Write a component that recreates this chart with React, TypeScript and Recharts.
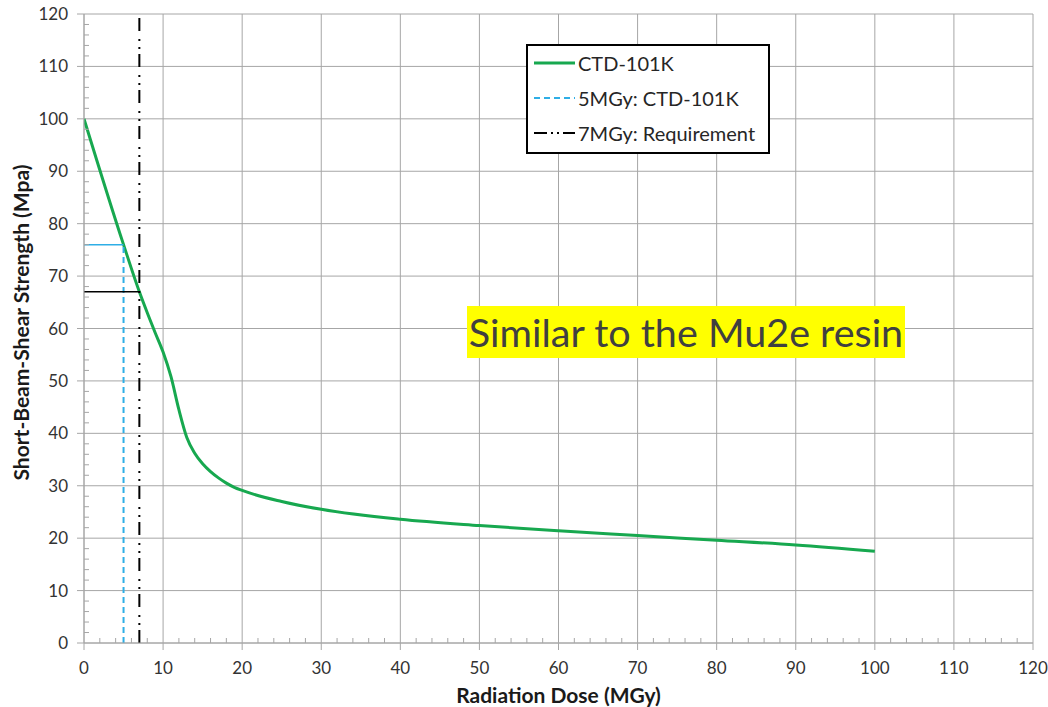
import { ComposedChart, Line, XAxis, YAxis, CartesianGrid, Legend, Label } from "recharts";

// CTD-101K short-beam-shear strength vs dose
const doses = [0, 5, 7, 8, 9, 10, 11, 12, 13, 14, 15, 16, 17, 18, 19, 20, 25, 30, 40, 50, 60, 70, 80, 90, 100];
const strengths = [100, 76, 67, 63, 59.2, 55.5, 50.8, 44.5, 39.2, 36.2, 34.2, 32.7, 31.5, 30.5, 29.7, 29.1, 27, 25.5, 23.6, 22.4, 21.4, 20.5, 19.6, 18.7, 17.5];

// marker lines
const dose5 = 5;
const strengthAt5 = 76;
const dose7 = 7;
const strengthAt7 = 67;
const yMax = 120;

const majorTicks = [0, 10, 20, 30, 40, 50, 60, 70, 80, 90, 100, 110, 120];
const allTicks = Array.from({ length: 61 }, (_, i) => i * 2); // major + minor every 2

const GREEN = "#17a84f";
const BLUE = "#2eaee6";
const GRID = "#a6a6a6";
const FONT = "Lato, 'Open Sans', sans-serif";

const ctdData = doses.map((d, i) => ({ dose: d, strength: strengths[i] }));
const blueV = [{ dose: dose5, strength: 0 }, { dose: dose5, strength: strengthAt5 }];
const blueH = [{ dose: 0, strength: strengthAt5 }, { dose: dose5, strength: strengthAt5 }];
const blackV = [{ dose: dose7, strength: 0 }, { dose: dose7, strength: yMax }];
const blackH = [{ dose: 0, strength: strengthAt7 }, { dose: dose7, strength: strengthAt7 }];

const legendItems = [
  { name: "CTD-101K", color: GREEN, dash: undefined as string | undefined, width: 3 },
  { name: "5MGy: CTD-101K", color: BLUE, dash: "6 4", width: 2 },
  { name: "7MGy: Requirement", color: "#000", dash: "13 4 2 4 2 4", width: 2 },
];

const LegendBox = () => (
  <div
    style={{
      width: 240,
      height: 106,
      border: "2px solid #000",
      background: "#fff",
      fontFamily: FONT,
      fontSize: 20,
      color: "#262626",
      boxSizing: "content-box",
    }}
  >
    {legendItems.map((it) => (
      <div key={it.name} style={{ display: "flex", alignItems: "center", height: 36, marginTop: -1 }}>
        <svg width={46} height={10} style={{ marginLeft: 4 }}>
          <line x1={2} y1={5} x2={43} y2={5} stroke={it.color} strokeWidth={it.width} strokeDasharray={it.dash} />
        </svg>
        <span>{it.name}</span>
      </div>
    ))}
  </div>
);

const isMajor = (v: number) => v % 10 === 0;

// x ticks: major ones point down with a label, minor ones point up into the plot
const XTick = ({ x, y, payload }: any) => {
  const v = payload.value;
  if (!isMajor(v)) return <line x1={x} x2={x} y1={y} y2={y - 5} stroke={GRID} />;
  return (
    <g>
      <line x1={x} x2={x} y1={y} y2={y + 7} stroke={GRID} />
      <text x={x} y={y + 19} dy="0.71em" textAnchor="middle" fontFamily={FONT} fontSize={17} fill="#333">
        {v}
      </text>
    </g>
  );
};

const YTick = ({ x, y, payload }: any) => {
  const v = payload.value;
  if (!isMajor(v)) return <line x1={x} x2={x + 5} y1={y} y2={y} stroke={GRID} />;
  return (
    <g>
      <line x1={x} x2={x - 7} y1={y} y2={y} stroke={GRID} />
      <text x={x - 16} y={y} dy="0.355em" textAnchor="end" fontFamily={FONT} fontSize={17} fill="#333">
        {v}
      </text>
    </g>
  );
};

const YTitle = (props: any) => {
  const vb = props.viewBox;
  const cx = vb.x + 20;
  const cy = vb.y + vb.height / 2 - 6;
  return (
    <text x={cx} y={cy} transform={`rotate(-90 ${cx} ${cy})`} textAnchor="middle" dominantBaseline="central"
      fontFamily={FONT} fontWeight="bold" fontSize={21} fill="#1a1a1a">
      Short-Beam-Shear Strength (Mpa)
    </text>
  );
};

const XTitle = (props: any) => {
  const vb = props.viewBox;
  return (
    <text x={vb.x + vb.width / 2} y={vb.y + 60} textAnchor="middle"
      fontFamily={FONT} fontWeight="bold" fontSize={21} fill="#1a1a1a">
      Radiation Dose (MGy)
    </text>
  );
};

const vGrid = ({ xAxis, offset }: any) =>
  majorTicks.map((t) => (xAxis && typeof xAxis.scale === "function" ? xAxis.scale(t) : offset.left + (t / 120) * offset.width));
const hGrid = ({ yAxis, offset }: any) =>
  majorTicks.map((t) => (yAxis && typeof yAxis.scale === "function" ? yAxis.scale(t) : offset.top + offset.height - (t / 120) * offset.height));

export default function App() {
  return (
    <div style={{ position: "absolute", left: 0, top: 0, width: 1048, height: 707, background: "#fff" }}>
      <ComposedChart width={1048} height={707} margin={{ top: 14, right: 15, left: 0, bottom: 0 }}>
        <CartesianGrid
          stroke={GRID}
          strokeWidth={1}
          verticalCoordinatesGenerator={vGrid}
          horizontalCoordinatesGenerator={hGrid}
        />
        <XAxis
          type="number"
          dataKey="dose"
          domain={[0, 120]}
          ticks={allTicks}
          interval={0}
          tick={<XTick />}
          tickSize={0}
          tickMargin={0}
          tickLine={false}
          axisLine={{ stroke: GRID }}
          height={64}
          allowDataOverflow
        >
          <Label content={<XTitle />} />
        </XAxis>
        <YAxis
          type="number"
          domain={[0, 120]}
          ticks={allTicks}
          interval={0}
          tick={<YTick />}
          tickSize={0}
          tickMargin={0}
          tickLine={false}
          axisLine={{ stroke: GRID }}
          width={84}
          allowDataOverflow
        >
          <Label content={<YTitle />} />
        </YAxis>
        <Legend
          layout="vertical"
          align="center"
          verticalAlign="middle"
          content={<LegendBox />}
          wrapperStyle={{ position: "absolute", left: 526, top: 44, width: 244, height: 110 }}
        />
        <Line
          data={ctdData}
          dataKey="strength"
          name="CTD-101K"
          type="monotone"
          stroke={GREEN}
          strokeWidth={3}
          dot={false}
          activeDot={false}
          isAnimationActive={false}
        />
        <Line data={blueH} dataKey="strength" type="linear" stroke={BLUE} strokeWidth={1.5}
          dot={false} activeDot={false} legendType="none" isAnimationActive={false} />
        <Line data={blueV} dataKey="strength" name="5MGy: CTD-101K" type="linear" stroke={BLUE} strokeWidth={2}
          strokeDasharray="6 4" dot={false} activeDot={false} isAnimationActive={false} />
        <Line data={blackH} dataKey="strength" type="linear" stroke="#000" strokeWidth={1.5}
          dot={false} activeDot={false} legendType="none" isAnimationActive={false} />
        <Line data={blackV} dataKey="strength" name="7MGy: Requirement" type="linear" stroke="#000" strokeWidth={2}
          strokeDasharray="13 5 2 6 2 8" dot={false} activeDot={false} isAnimationActive={false} />
      </ComposedChart>
      <div
        style={{
          position: "absolute",
          left: 467,
          top: 306,
          width: 438,
          height: 52,
          background: "#ffff00",
          color: "#404040",
          fontFamily: FONT,
          fontSize: 39.5,
          lineHeight: "52px",
          textAlign: "center",
          whiteSpace: "nowrap",
        }}
      >
        Similar to the Mu2e resin
      </div>
    </div>
  );
}
